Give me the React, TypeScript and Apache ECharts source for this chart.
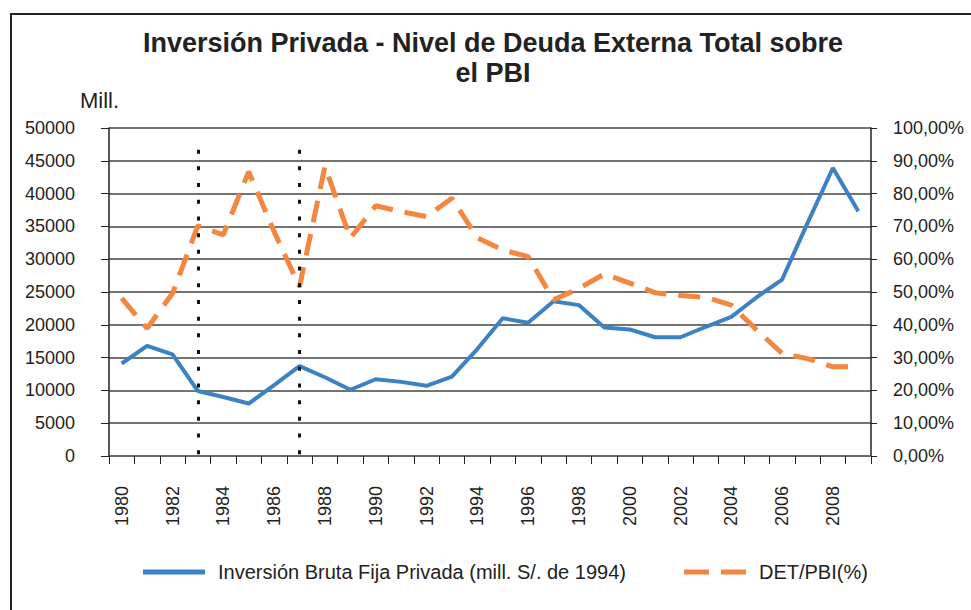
import React, { useEffect, useRef } from "react";
import * as echarts from "echarts";

const years = [
  "1980", "1981", "1982", "1983", "1984", "1985", "1986", "1987", "1988", "1989",
  "1990", "1991", "1992", "1993", "1994", "1995", "1996", "1997", "1998", "1999",
  "2000", "2001", "2002", "2003", "2004", "2005", "2006", "2007", "2008", "2009",
];

const inversion = [
  14100, 16800, 15500, 9900, 9000, 8000, 10800, 13700, 12000, 10100,
  11700, 11300, 10700, 12100, 16300, 21000, 20300, 23600, 23000, 19600,
  19300, 18100, 18100, 19700, 21200, 24200, 26900, 35500, 43900, 37300,
];

const detPbi = [
  48.1, 38.9, 49.6, 70.2, 67.4, 86.7, 68.4, 51.6, 88.3, 66.4,
  76.3, 74.5, 73.0, 78.6, 66.5, 62.8, 60.8, 47.6, 51.1, 55.5,
  52.7, 49.8, 48.9, 48.4, 46.0, 38.4, 31.3, 29.7, 27.2, 27.2,
];

const markYears = ["1983", "1987"];
const markTop = 46700;

const FONT = "'Liberation Sans', Arial, sans-serif";

const BLUE = "#3b82c4";
const ORANGE = "#f5863f";

export default function App() {
  const ref = useRef<HTMLDivElement>(null);

  useEffect(() => {
    document.body.style.margin = "0";
    const chart = echarts.init(ref.current!, null, { renderer: "svg" });
    chart.setOption({
      animation: false,
      backgroundColor: "#ffffff",
      textStyle: { fontFamily: FONT },
      title: {
        text: "Inversión Privada - Nivel de Deuda Externa Total sobre\nel PBI",
        left: 493,
        textAlign: "center",
        top: 28,
        padding: 0,
        textStyle: {
          fontFamily: FONT,
          fontSize: 27,
          fontWeight: "bold",
          color: "#222",
          lineHeight: 30,
        },
      },
      graphic: [
        {
          type: "rect",
          shape: { x: 11, y: 14, width: 1000, height: 700 },
          style: { fill: "none", stroke: "#222", lineWidth: 2 },
          silent: true,
        },
        {
          type: "text",
          left: 80,
          top: 89,
          style: { text: "Mill.", font: `22px ${FONT}`, fill: "#222" },
        },
      ],
      legend: {
        top: 562,
        left: 143,
        padding: 0,
        itemGap: 58,
        itemWidth: 62,
        itemHeight: 5,
        textStyle: { fontFamily: FONT, fontSize: 20, color: "#222", padding: [0, 0, 0, 8] },
        data: [
          {
            name: "Inversión Bruta Fija Privada (mill. S/. de 1994)",
            icon: "path://M0,0h62v5h-62z",
            itemStyle: { color: BLUE },
          },
          {
            name: "DET/PBI(%)",
            icon: "path://M0,0h25v5h-25z M37,0h25v5h-25z",
            itemStyle: { color: ORANGE },
          },
        ],
      },
      grid: { left: 109, right: 100, top: 128, bottom: 154 },
      xAxis: {
        type: "category",
        data: years,
        boundaryGap: true,
        axisLine: { lineStyle: { color: "#666", width: 1.5 } },
        axisTick: { show: true, interval: 0, length: 8, lineStyle: { color: "#222" } },
        axisLabel: {
          interval: 1,
          rotate: 90,
          margin: 30,
          fontFamily: FONT,
          fontSize: 18,
          color: "#222",
        },
        splitLine: { show: false },
      },
      yAxis: [
        {
          type: "value",
          min: 0,
          max: 50000,
          interval: 5000,
          axisLine: { show: true, lineStyle: { color: "#222", width: 1.5 } },
          axisTick: { show: true, length: 8, lineStyle: { color: "#222" } },
          axisLabel: {
            margin: 34,
            fontFamily: FONT,
            fontSize: 18,
            color: "#222",
            formatter: (v: number) => String(v),
          },
          splitLine: { show: true, lineStyle: { color: "#444", width: 1.5 } },
        },
        {
          type: "value",
          min: 0,
          max: 100,
          interval: 10,
          position: "right",
          axisLine: { show: true, lineStyle: { color: "#222", width: 1.5 } },
          axisTick: { show: true, length: 6, lineStyle: { color: "#222" } },
          axisLabel: {
            margin: 22,
            fontFamily: FONT,
            fontSize: 18,
            color: "#222",
            formatter: (v: number) => v.toFixed(2).replace(".", ",") + "%",
          },
          splitLine: { show: false },
        },
      ],
      series: [
        {
          name: "Inversión Bruta Fija Privada (mill. S/. de 1994)",
          type: "line",
          yAxisIndex: 0,
          data: inversion,
          symbol: "none",
          color: BLUE,
          lineStyle: { color: BLUE, width: 4 },
          z: 3,
          markLine: {
            silent: true,
            symbol: ["none", "none"],
            label: { show: false },
            lineStyle: { color: "#111", width: 3, type: [4, 12.7] },
            data: markYears.map((y) => [
              { coord: [y, markTop] },
              { coord: [y, 0] },
            ]),
          },
        },
        {
          name: "DET/PBI(%)",
          type: "line",
          yAxisIndex: 1,
          data: detPbi,
          symbol: "none",
          color: ORANGE,
          lineStyle: { color: ORANGE, width: 5, type: [22, 12] },
          z: 4,
        },
      ],
    });
    return () => chart.dispose();
  }, []);

  return (
    <div
      ref={ref}
      style={{ position: "absolute", left: 0, top: 0, width: 971, height: 610 }}
    />
  );
}
